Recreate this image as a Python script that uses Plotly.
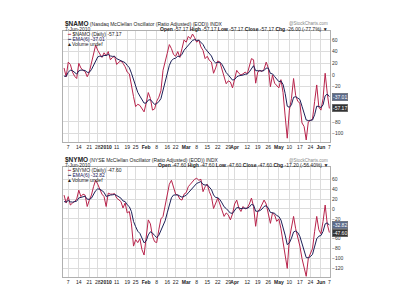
import pandas as pd
import plotly.graph_objects as go

# ---------------- data ----------------
holidays = ["2009-12-25", "2010-01-01", "2010-01-18", "2010-02-15", "2010-04-02", "2010-05-31"]
dates = [d.strftime("%Y-%m-%d") for d in pd.bdate_range("2009-12-03", "2010-06-07")
         if d.strftime("%Y-%m-%d") not in holidays]

namo = [12, -3, 22, 18, 5, -2, -6, 20, 12, 8, 6, -3, 5, 20, 35, 51, 42, 36, 30, 38,
        33, 40, 26, 30, 32, 18, 22, 24, 20, 14, 5, 2, -20, -37, -54, -50, -52, -57, -63, -48,
        -30, -40, -60, -58, -45, -38, -27, 8, 25, 37, 52, 45, 35, 32, 40, 30, 45, 60, 56, 66,
        62, 70, 64, 56, 60, 48, 42, 28, 32, 25, 22, 3, 12, 24, 22, 10, -5, -15, -10, -12,
        -22, -5, 8, 3, 0, 2, 5, 2, 15, 28, 26, -14, 5, 8, 6, 10, 22, 12, -20, 0,
        -14, -18, -22, -8, -30, -70, -108, -60, -40, -6, -35, -45, -48, -82, -88, -111, -80, -78, -75, -45,
        -17, -55, -60, -40, 3, -31.17, -57.17]
namo_ema = [-2, -2.3, 4.6, 8.4, 7.4, 4.7, 1.6, 6.9, 8.4, 8.3, 7.6, 4.6, 4.7, 9.1, 16.5, 26.4, 30.9, 32.3, 31.6, 33.4,
            33.3, 35.2, 32.6, 31.8, 31.9, 27.9, 26.2, 25.6, 24.0, 21.1, 16.5, 12.4, 3.1, -8.4, -21.4, -29.6, -36.0, -42.0, -48.0, -48.0,
            -42.9, -42.1, -47.2, -50.3, -48.8, -45.7, -40.4, -26.6, -11.8, 2.2, 16.4, 24.6, 27.6, 28.9, 32.1, 31.5, 35.4, 42.4, 46.3, 51.9,
            54.8, 59.1, 60.5, 59.2, 59.4, 56.1, 52.1, 45.2, 41.4, 36.7, 32.5, 24.1, 20.6, 21.6, 21.7, 18.4, 11.7, 4.1, 0.1, -3.4,
            -8.7, -7.7, -3.2, -1.4, -1.0, -0.1, 1.4, 1.6, 5.4, 11.9, 15.9, 7.4, 6.7, 7.1, 6.8, 7.7, 11.8, 11.8, 2.7, 1.9,
            -2.6, -7.0, -11.3, -10.3, -16.0, -31.4, -53.3, -55.2, -50.9, -38.1, -37.2, -39.4, -41.9, -53.4, -63.3, -76.9, -77.8, -77.9, -77.0, -67.9,
            -53.3, -53.8, -55.6, -51.1, -35.6, -32.5, -37.01]

nymo = [28, 12, 25, 8, 12, 15, 20, 38, 25, 30, 28, 5, 18, 28, 45, 58, 50, 38, 30, 25,
        5, 32, 30, 30, 31, 22, 18, 15, 2, 12, -8, -5, -30, -75, -62, -68, -60, -82, -93, -55,
        -22, -30, -55, -66, -68, -42, -20, -15, 5, 32, 50, 58, 42, 30, 28, 20, 18, 30, 33, 45,
        50, 55, 60, 62, 58, 60, 35, 45, 50, 35, 25, 1, 10, 22, 10, -5, -15, -8, -12, -22,
        -10, 10, 18, 2, -5, 5, 0, 2, 10, 22, 5, -35, -5, 0, 8, 18, 10, -10, -29, -8,
        -12, -25, -20, -40, -70, -95, -120, -60, -35, -15, -40, -55, -75, -100, -120, -136, -100, -90, -80, -45,
        -15, -42, -50, -25, 8, -30.40, -47.60]
nymo_ema = [15, 14.1, 17.2, 14.6, 13.8, 14.2, 15.8, 22.2, 23.0, 25.0, 25.8, 19.9, 19.4, 21.8, 28.4, 36.9, 40.6, 39.9, 37.1, 33.6,
            25.4, 27.3, 28.1, 28.6, 29.3, 27.2, 24.6, 21.9, 16.2, 15.0, 8.4, 4.6, -5.3, -25.2, -35.7, -44.9, -49.2, -58.6, -68.4, -64.6,
            -52.4, -46.0, -48.6, -53.6, -57.7, -53.2, -43.7, -35.5, -23.9, -7.9, 8.6, 22.7, 28.2, 28.7, 28.5, 26.1, 23.8, 25.6, 27.7, 32.6,
            37.6, 42.6, 47.6, 51.7, 53.5, 55.4, 49.6, 48.3, 48.8, 44.8, 39.2, 28.3, 23.1, 22.8, 19.1, 12.2, 4.4, 0.9, -2.8, -8.3,
            -8.8, -3.4, 2.7, 2.5, 0.4, 1.7, 1.2, 1.4, 3.9, 9.1, 7.9, -4.4, -4.6, -3.3, -0.1, 5.1, 6.5, 1.8, -7.0, -7.3,
            -8.6, -13.3, -15.2, -22.3, -35.9, -52.8, -72.0, -68.6, -59.0, -46.4, -44.6, -47.6, -55.4, -68.2, -83.0, -98.1, -98.7, -96.2, -91.6, -78.3,
            -60.2, -55.0, -53.6, -45.4, -30.1, -28.0, -32.82]

tick_dates = ["2009-12-07", "2009-12-14", "2009-12-21", "2009-12-28", "2010-01-04", "2010-01-11", "2010-01-19",
              "2010-01-25", "2010-02-01", "2010-02-08", "2010-02-16", "2010-02-22", "2010-03-01", "2010-03-08",
              "2010-03-15", "2010-03-22", "2010-03-29", "2010-04-01", "2010-04-12", "2010-04-19", "2010-04-26",
              "2010-05-03", "2010-05-10", "2010-05-17", "2010-05-24", "2010-06-01", "2010-06-07"]
tick_text = ["7", "14", "21", "28", "<b>2010</b>", "11", "19", "25", "<b>Feb</b>", "8", "16", "22", "<b>Mar</b>", "8",
             "15", "22", "29", "<b>Apr</b>", "12", "19", "26", "<b>May</b>", "10", "17", "24", "<b>Jun</b>", "7"]

top_ticks = [60, 40, 20, 0, -20, -80, -100]
bot_ticks = [60, 40, 20, 0, -20, -60, -80, -100, -120]

# ---------------- figure ----------------
W, H = 400, 300
FONT = "Liberation Sans"
RED = "#b8244c"
NAVY = "#1c2058"
GRID = "#dcdcdc"

x = list(range(len(dates)))
tickvals = [dates.index(d) for d in tick_dates]

def py(pix):
    return 1 - pix / H

XL, XR = 63 / W, 330 / W
top_dom = [py(142), py(31)]
bot_dom = [py(277), py(167)]

fig = go.Figure()
fig.add_trace(go.Scatter(x=x, y=namo, mode="lines", line=dict(color=RED, width=1), xaxis="x", yaxis="y"))
fig.add_trace(go.Scatter(x=x, y=namo_ema, mode="lines", line=dict(color=NAVY, width=1), xaxis="x", yaxis="y"))
fig.add_trace(go.Scatter(x=x, y=nymo, mode="lines", line=dict(color=RED, width=1), xaxis="x2", yaxis="y2"))
fig.add_trace(go.Scatter(x=x, y=nymo_ema, mode="lines", line=dict(color=NAVY, width=1), xaxis="x2", yaxis="y2"))

xcommon = dict(range=[-0.5, 126.3], tickvals=tickvals, ticktext=tick_text, tickangle=0, showgrid=True,
               gridcolor=GRID, gridwidth=1, zeroline=False, showline=True, linecolor="#b0b0b0", mirror=True,
               ticks="", ticklen=0, tickfont=dict(size=5, color="#222", family=FONT), domain=[XL, XR],
               fixedrange=True, automargin=False)
ycommon = dict(side="right", showgrid=True, gridcolor=GRID, gridwidth=1, zeroline=False, showline=True,
               linecolor="#b0b0b0", mirror=True, ticks="", tickfont=dict(size=5, color="#333", family=FONT),
               fixedrange=True, automargin=False)

fig.update_layout(
    width=W, height=H, margin=dict(l=0, r=0, t=0, b=0), paper_bgcolor="white", plot_bgcolor="white",
    showlegend=False,
    xaxis=dict(anchor="y", **xcommon),
    yaxis=dict(domain=top_dom, anchor="x", range=[-114.5, 75.2], tickvals=top_ticks, **ycommon),
    xaxis2=dict(anchor="y2", **xcommon),
    yaxis2=dict(domain=bot_dom, anchor="x2", range=[-137.4, 84.8], tickvals=bot_ticks, **ycommon),
)

def header(top_pix, sym, name, price, chg, pct, ema_val):
    f = dict(family=FONT, size=5, color="#222")
    fig.add_annotation(x=XL, y=py(top_pix), xref="paper", yref="paper", xanchor="left", yanchor="middle",
                       showarrow=False, font=f,
                       text=f"<b style='font-size:6.5px'>{sym}</b> ({name}) INDX")
    fig.add_annotation(x=XR, y=py(top_pix), xref="paper", yref="paper", xanchor="right", yanchor="middle",
                       showarrow=False, font=dict(family=FONT, size=4.5, color="#888"), text="@StockCharts.com")
    fig.add_annotation(x=XL, y=py(top_pix + 5), xref="paper", yref="paper", xanchor="left", yanchor="middle",
                       showarrow=False, font=f, text="7-Jun-2010")
    p = f"{price:.2f}"
    fig.add_annotation(x=XR, y=py(top_pix + 5), xref="paper", yref="paper", xanchor="right", yanchor="middle",
                       showarrow=False, font=f,
                       text=f"<b>Open</b> {p} <b>High</b> {p} <b>Low</b> {p} <b>Close</b> {p} <b>Chg</b> {chg:.2f} ({pct}) ▼")
    # legend inside plot
    fig.add_annotation(x=XL + 0.004, y=py(top_pix + 10), xref="paper", yref="paper", xanchor="left", yanchor="middle",
                       showarrow=False, font=f,
                       text=f"<span style='color:{RED}'>━</span> {sym} (Daily) {p}")
    fig.add_annotation(x=XL + 0.004, y=py(top_pix + 15), xref="paper", yref="paper", xanchor="left", yanchor="middle",
                       showarrow=False, font=dict(family=FONT, size=5, color=NAVY),
                       text=f"<span style='color:{NAVY}'>━</span> EMA(6) {ema_val:.2f}")
    fig.add_annotation(x=XL + 0.004, y=py(top_pix + 19.5), xref="paper", yref="paper", xanchor="left", yanchor="middle",
                       showarrow=False, font=f, text="▲Volume undef")

header(24, "$NAMO", "Nasdaq McClellan Oscillator (Ratio Adjusted) (EOD)", namo[-1], -26.00, "-77.7%", namo_ema[-1])
header(160, "$NYMO", "NYSE McClellan Oscillator (Ratio Adjusted) (EOD)", nymo[-1], -17.20, "-56.40%", nymo_ema[-1])

def value_box(yref, val, bg):
    fig.add_annotation(x=XR + 0.005, y=val, xref="paper", yref=yref, xanchor="left", yanchor="middle",
                       showarrow=False, text=f"{val:.2f}", font=dict(family=FONT, size=5, color="white"),
                       bgcolor=bg, bordercolor="#666", borderwidth=0.5, borderpad=0.5)

value_box("y", namo_ema[-1], "#5a6a8a")
value_box("y", namo[-1], "#333333")
value_box("y2", nymo_ema[-1], "#5a6a8a")
value_box("y2", nymo[-1], "#333333")

fig.write_html("out.html")
